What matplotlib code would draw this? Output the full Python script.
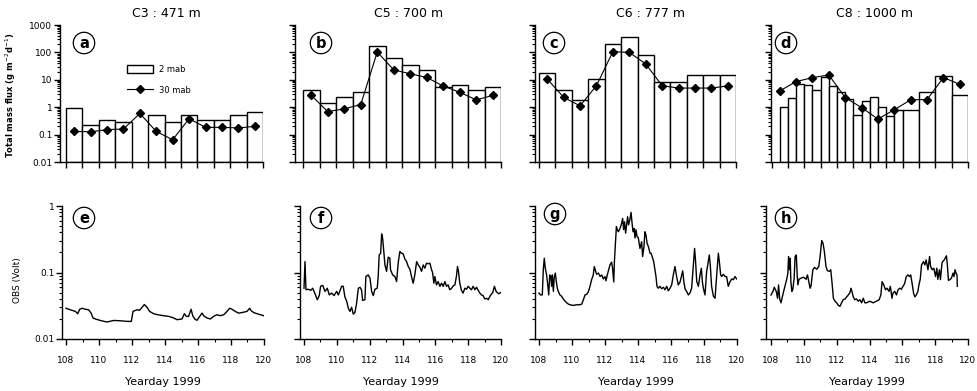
import numpy as np
import matplotlib
matplotlib.use("Agg")
import matplotlib.pyplot as plt
from matplotlib.ticker import LogLocator, NullFormatter, FuncFormatter
from matplotlib.patches import Patch
from matplotlib.lines import Line2D

plt.rcParams['font.family'] = ['DejaVu Sans']

# ---------------- sediment trap total mass flux (g m-2 d-1) ----------------
stations = ['C3 : 471 m', 'C5 : 700 m', 'C6 : 777 m', 'C8 : 1000 m']
panel_top = ['a', 'b', 'c', 'd']
panel_bot = ['e', 'f', 'g', 'h']

# one-day collection intervals (C3, C5, C6)
daily_edges = [108, 109, 110, 111, 112, 113, 114, 115, 116, 117, 118, 119, 120]
# C8 2 mab trap: half-day cups, then one-day cups
c8_edges = [108.5, 109, 109.5, 110, 110.5, 111, 111.5, 112, 112.5, 113, 113.5,
            114, 114.5, 115, 115.5, 116, 117, 118, 119, 120]
# 30 mab trap sampling midpoints
mid_days = [108.5, 109.5, 110.5, 111.5, 112.5, 113.5, 114.5, 115.5, 116.5,
            117.5, 118.5, 119.5]

c3_2mab = [0.97, 0.23, 0.34, 0.29, np.nan, 0.50, 0.29, 0.50, 0.34, 0.34, 0.50, 0.68]
c3_30mab = [0.13, 0.127, 0.152, 0.16, 0.59, 0.13, 0.065, 0.38, 0.184, 0.184, 0.175, 0.20]

c5_2mab = [4.1, 1.4, 2.3, 3.7, 166, 64, 34, 23, 5.4, 6.6, 4.4, 5.4]
c5_30mab = [2.7, 0.69, 0.87, 1.25, 103, 23, 16.6, 12.2, 5.9, 3.5, 1.85, 2.7]

c6_2mab = [18, 4.1, 1.76, 10.7, 196, 355, 80, 8.1, 8.1, 14.6, 14.6, 15.5]
c6_30mab = [10.7, 2.3, 1.12, 6.1, 106, 100, 38, 6.1, 5.0, 5.0, 5.0, 6.0]

c8_2mab = [1.0, 2.1, 6.9, 6.3, 4.4, 12.2, 5.8, 3.7, 2.0, 0.54, 1.67, 2.28, 1.0,
           0.48, 0.82, 0.82, 3.7, 13.3, 2.7]
c8_30mab = [3.9, 8.6, 12.0, 15.0, 2.25, 0.97, 0.37, 0.81, 1.86, 1.9, 12.1, 6.8]

# ---------------- OBS records (Volt) ----------------
c3_obs_day = [108.00, 108.26, 108.57, 108.71, 108.83, 108.97, 109.17, 109.37, 109.52,
              109.64, 109.78, 110.08, 110.48, 110.89, 111.29, 111.70, 111.96, 112.06,
              112.30, 112.46, 112.61, 112.75, 112.91, 113.07, 113.31, 113.62, 113.92,
              114.22, 114.53, 114.73, 115.03, 115.17, 115.29, 115.43, 115.58, 115.68,
              115.80, 115.94, 116.06, 116.24, 116.38, 116.55, 116.75, 116.95, 117.15,
              117.35, 117.56, 117.76, 117.92, 118.06, 118.26, 118.46, 118.67, 118.97,
              119.13, 119.21, 119.37, 119.58, 119.78, 119.98]
c3_obs = [0.029, 0.0275, 0.026, 0.024, 0.028, 0.029, 0.028, 0.0275, 0.0245,
          0.0207, 0.020, 0.019, 0.018, 0.019, 0.0188, 0.0184, 0.0184, 0.026,
          0.0275, 0.027, 0.030, 0.033, 0.030, 0.026, 0.024, 0.023, 0.0224,
          0.0219, 0.0207, 0.0195, 0.020, 0.024, 0.0219, 0.0219, 0.028, 0.0224,
          0.020, 0.0191, 0.0211, 0.0245, 0.0219, 0.0207, 0.020, 0.0219, 0.0232,
          0.0224, 0.0232, 0.026, 0.029, 0.028, 0.026, 0.0245, 0.025, 0.026,
          0.029, 0.0269, 0.025, 0.024, 0.0232, 0.0224]

c5_obs_day = [108.00, 108.06, 108.12, 108.26, 108.41, 108.53, 108.67, 108.81, 108.93,
              109.01, 109.14, 109.28, 109.42, 109.54, 109.68, 109.83, 109.99, 110.09,
              110.19, 110.29, 110.39, 110.49, 110.60, 110.70, 110.80, 110.90, 111.00,
              111.10, 111.20, 111.31, 111.41, 111.51, 111.57, 111.71, 111.77, 111.91,
              112.02, 112.12, 112.22, 112.32, 112.46, 112.52, 112.58, 112.67, 112.73,
              112.79, 112.87, 112.93, 113.03, 113.13, 113.23, 113.27, 113.40, 113.54,
              113.64, 113.74, 113.84, 113.94, 114.04, 114.15, 114.25, 114.35, 114.45,
              114.55, 114.65, 114.75, 114.86, 114.96, 115.06, 115.16, 115.26, 115.36,
              115.46, 115.57, 115.67, 115.77, 115.83, 115.91, 115.97, 116.07, 116.17,
              116.28, 116.38, 116.48, 116.58, 116.68, 116.78, 116.88, 116.99, 117.09,
              117.19, 117.29, 117.35, 117.41, 117.49, 117.59, 117.69, 117.80, 117.90,
              118.00, 118.10, 118.20, 118.30, 118.41, 118.51, 118.61, 118.71, 118.81,
              118.91, 119.01, 119.12, 119.22, 119.35, 119.50, 119.60, 119.70, 119.85,
              120.00]
c5_obs = [0.058, 0.146, 0.055, 0.056, 0.054, 0.058, 0.048, 0.039, 0.045,
          0.062, 0.064, 0.052, 0.058, 0.046, 0.049, 0.045, 0.052, 0.046,
          0.053, 0.062, 0.062, 0.043, 0.037, 0.029, 0.026, 0.030, 0.0237,
          0.025, 0.034, 0.058, 0.060, 0.054, 0.038, 0.039, 0.087, 0.092,
          0.082, 0.052, 0.045, 0.056, 0.058, 0.087, 0.184, 0.195, 0.380,
          0.327, 0.195, 0.130, 0.104, 0.170, 0.164, 0.110, 0.092, 0.087,
          0.073, 0.141, 0.207, 0.195, 0.191, 0.158, 0.146, 0.123, 0.112,
          0.087, 0.069, 0.092, 0.146, 0.130, 0.120, 0.104, 0.130, 0.116,
          0.138, 0.135, 0.138, 0.110, 0.100, 0.069, 0.087, 0.065, 0.073,
          0.062, 0.069, 0.062, 0.073, 0.062, 0.065, 0.055, 0.058, 0.063,
          0.065, 0.089, 0.123, 0.104, 0.069, 0.054, 0.049, 0.058, 0.056,
          0.062, 0.058, 0.055, 0.062, 0.055, 0.060, 0.054, 0.049, 0.046,
          0.045, 0.040, 0.041, 0.039, 0.045, 0.050, 0.062, 0.052, 0.048,
          0.050]

c6_obs_day = [108.00, 108.10, 108.20, 108.26, 108.32, 108.38, 108.46, 108.53, 108.59,
              108.65, 108.71, 108.77, 108.81, 108.87, 108.93, 108.99, 109.05, 109.11,
              109.17, 109.27, 109.37, 109.47, 109.58, 109.68, 109.78, 109.88, 110.08,
              110.28, 110.48, 110.59, 110.69, 110.79, 110.89, 110.99, 111.09, 111.19,
              111.29, 111.35, 111.41, 111.49, 111.60, 111.70, 111.80, 111.90, 112.00,
              112.06, 112.14, 112.22, 112.30, 112.40, 112.46, 112.53, 112.57, 112.63,
              112.69, 112.75, 112.81, 112.91, 113.01, 113.07, 113.13, 113.19, 113.25,
              113.31, 113.37, 113.43, 113.52, 113.58, 113.64, 113.70, 113.76, 113.82,
              113.88, 113.94, 114.02, 114.12, 114.22, 114.28, 114.36, 114.42, 114.48,
              114.55, 114.63, 114.73, 114.79, 114.89, 114.95, 115.03, 115.09, 115.15,
              115.23, 115.33, 115.43, 115.54, 115.64, 115.74, 115.84, 115.94, 116.04,
              116.14, 116.24, 116.34, 116.44, 116.55, 116.65, 116.71, 116.79, 116.87,
              116.95, 117.05, 117.15, 117.25, 117.35, 117.43, 117.49, 117.56, 117.66,
              117.76, 117.84, 117.90, 117.96, 118.06, 118.16, 118.26, 118.32, 118.38,
              118.46, 118.57, 118.67, 118.77, 118.87, 118.93, 119.01, 119.07, 119.17,
              119.27, 119.37, 119.47, 119.58, 119.68, 119.78, 119.88, 119.98]
c6_obs = [0.049, 0.046, 0.046, 0.110, 0.164, 0.116, 0.092, 0.065, 0.046,
          0.092, 0.087, 0.062, 0.092, 0.052, 0.087, 0.098, 0.073, 0.058,
          0.052, 0.046, 0.044, 0.040, 0.037, 0.035, 0.0335, 0.0327, 0.032,
          0.0327, 0.0327, 0.0335, 0.039, 0.046, 0.047, 0.051, 0.062, 0.078,
          0.092, 0.123, 0.110, 0.094, 0.098, 0.087, 0.092, 0.080, 0.087,
          0.075, 0.092, 0.110, 0.130, 0.143, 0.116, 0.072, 0.146, 0.26,
          0.49, 0.44, 0.41, 0.46, 0.55, 0.65, 0.44, 0.58, 0.39,
          0.52, 0.69, 0.52, 0.65, 0.80, 0.55, 0.41, 0.46, 0.33,
          0.44, 0.35, 0.33, 0.23, 0.29, 0.174, 0.245, 0.41, 0.37,
          0.275, 0.245, 0.195, 0.195, 0.164, 0.146, 0.110, 0.087, 0.062,
          0.058, 0.062, 0.057, 0.060, 0.055, 0.062, 0.053, 0.058, 0.065,
          0.092, 0.123, 0.087, 0.065, 0.072, 0.092, 0.106, 0.069, 0.055,
          0.052, 0.046, 0.049, 0.058, 0.123, 0.23, 0.146, 0.073, 0.062,
          0.092, 0.116, 0.073, 0.058, 0.046, 0.104, 0.146, 0.184, 0.130,
          0.062, 0.044, 0.041, 0.092, 0.195, 0.146, 0.092, 0.087, 0.094,
          0.087, 0.087, 0.062, 0.073, 0.080, 0.078, 0.087, 0.080]

c8_obs_day = [108.00, 108.12, 108.20, 108.32, 108.40, 108.46, 108.53, 108.61, 108.69,
              108.77, 108.87, 108.97, 109.03, 109.07, 109.13, 109.17, 109.21, 109.27,
              109.33, 109.41, 109.47, 109.54, 109.60, 109.64, 109.70, 109.82, 109.98,
              110.14, 110.22, 110.28, 110.38, 110.44, 110.55, 110.65, 110.79, 110.91,
              110.99, 111.09, 111.17, 111.25, 111.35, 111.43, 111.56, 111.64, 111.72,
              111.80, 111.90, 112.00, 112.10, 112.20, 112.30, 112.40, 112.51, 112.61,
              112.71, 112.81, 112.87, 112.93, 113.01, 113.11, 113.21, 113.31, 113.41,
              113.52, 113.62, 113.72, 113.82, 114.02, 114.22, 114.42, 114.59, 114.69,
              114.77, 114.87, 114.97, 115.07, 115.19, 115.27, 115.37, 115.43, 115.54,
              115.64, 115.74, 115.84, 115.94, 116.04, 116.14, 116.24, 116.34, 116.44,
              116.51, 116.61, 116.69, 116.77, 116.85, 116.95, 117.01, 117.09, 117.17,
              117.29, 117.37, 117.45, 117.56, 117.66, 117.72, 117.82, 117.92, 118.02,
              118.10, 118.16, 118.26, 118.32, 118.42, 118.55, 118.65, 118.69, 118.75,
              118.81, 118.89, 118.99, 119.09, 119.15, 119.21, 119.27, 119.33, 119.35]
c8_obs = [0.046, 0.052, 0.060, 0.052, 0.041, 0.065, 0.040, 0.035, 0.043,
          0.052, 0.065, 0.082, 0.098, 0.174, 0.110, 0.164, 0.073, 0.052,
          0.056, 0.082, 0.174, 0.184, 0.087, 0.065, 0.079, 0.082, 0.085,
          0.079, 0.092, 0.078, 0.058, 0.063, 0.110, 0.119, 0.112, 0.123,
          0.174, 0.302, 0.275, 0.207, 0.123, 0.107, 0.104, 0.110, 0.069,
          0.041, 0.037, 0.035, 0.032, 0.031, 0.035, 0.039, 0.040, 0.043,
          0.046, 0.050, 0.058, 0.052, 0.043, 0.039, 0.040, 0.037, 0.039,
          0.035, 0.041, 0.035, 0.035, 0.037, 0.035, 0.037, 0.039, 0.046,
          0.073, 0.065, 0.055, 0.058, 0.052, 0.062, 0.041, 0.049, 0.052,
          0.046, 0.055, 0.058, 0.056, 0.062, 0.068, 0.087, 0.092, 0.087,
          0.092, 0.065, 0.048, 0.043, 0.046, 0.052, 0.065, 0.079, 0.130,
          0.146, 0.130, 0.155, 0.110, 0.174, 0.123, 0.110, 0.116, 0.087,
          0.116, 0.079, 0.110, 0.078, 0.141, 0.155, 0.170, 0.178, 0.123,
          0.076, 0.078, 0.082, 0.098, 0.087, 0.110, 0.098, 0.092, 0.062]

flux_edges = [daily_edges, daily_edges, daily_edges, c8_edges]
flux_2mab = [c3_2mab, c5_2mab, c6_2mab, c8_2mab]
flux_30mab = [c3_30mab, c5_30mab, c6_30mab, c8_30mab]
obs_days = [c3_obs_day, c5_obs_day, c6_obs_day, c8_obs_day]
obs_vals = [c3_obs, c5_obs, c6_obs, c8_obs]

# ---------------- figure layout (pixel geometry) ----------------
W, H = 977, 391
fig = plt.figure(figsize=(W / 100, H / 100), dpi=100)

def px_axes(left, right, top, bottom):
    return fig.add_axes([left / W, 1 - bottom / H, (right - left) / W, (bottom - top) / H])

# (spine x, x of day 108, x of day 120)
top_geom = [(60, 66, 263), (295, 303, 501), (535, 539, 736), (771, 771.5, 968)]
bot_geom = [(62, 66, 264), (300, 304, 501), (535, 539, 737), (766, 771, 968)]
top_y = (25, 162)
bot_y = (206, 339)

title_px = [166, 409, 651, 874]
letter_top_px = [(84, 43), (321, 43), (554, 43), (786, 43)]
letter_bot_px = [(84, 218), (321, 218), (555, 214), (786, 218)]

tick_fs = 6.5
marker_size = 3.8
plain = FuncFormatter(lambda v, _: f'{v:g}')


def style_axes(ax):
    for s in ('top', 'right'):
        ax.spines[s].set_visible(False)
    for s in ('left', 'bottom'):
        ax.spines[s].set_linewidth(1.0)
    ax.tick_params(which='major', direction='out', length=4.5, width=1.0,
                   labelsize=tick_fs)
    ax.tick_params(which='minor', direction='out', length=2.5, width=0.8)
    ax.tick_params(axis='y', which='major', pad=1)
    ax.tick_params(axis='x', which='major', pad=8)


def circled(xy_px, letter):
    fig.text(xy_px[0] / W, 1 - xy_px[1] / H, letter, ha='center', va='center',
             fontsize=10.5, fontweight='bold',
             bbox=dict(boxstyle='circle,pad=0.22', fc='white', ec='black', lw=0.9))


for i in range(4):
    # ----- flux panels -----
    sp, x108, x120 = top_geom[i]
    ax = px_axes(sp, x120, *top_y)
    per_day = (x120 - x108) / 12.0
    ax.set_xlim(108 - (x108 - sp) / per_day, 120)
    ax.set_yscale('log')
    ax.set_ylim(0.01, 1000)
    style_axes(ax)

    edges = np.array(flux_edges[i], dtype=float)
    heights = np.array(flux_2mab[i], dtype=float)
    ok = ~np.isnan(heights)
    ax.bar(edges[:-1][ok], heights[ok] - 0.01, width=np.diff(edges)[ok], bottom=0.01,
           align='edge', facecolor='white', edgecolor='black', linewidth=1.0, zorder=2)
    ax.plot(mid_days, flux_30mab[i], color='black', lw=0.8, marker='D',
            markersize=marker_size, zorder=3)

    ax.set_xticks(daily_edges)
    ax.set_xticklabels([])
    ax.yaxis.set_major_locator(LogLocator(base=10, numticks=10))
    ax.yaxis.set_minor_locator(LogLocator(base=10, subs=np.arange(2, 10), numticks=10))
    ax.yaxis.set_minor_formatter(NullFormatter())
    if i == 0:
        ax.yaxis.set_major_formatter(plain)
        ax.set_ylabel('Total mass flux (g m$^{-2}$d$^{-1}$)', fontsize=6,
                      fontweight='bold')
        ax.yaxis.set_label_coords((18 - sp) / (x120 - sp), 0.49)
        handles = [Patch(facecolor='white', edgecolor='black', lw=1.0),
                   Line2D([], [], color='black', lw=0.8, marker='D',
                          markersize=marker_size)]
        ax.legend(handles, ['2 mab', '30 mab'], loc='upper left',
                  bbox_to_anchor=(0.314, 0.735), borderaxespad=0, frameon=False,
                  fontsize=6, handlelength=3.1, handleheight=1.1,
                  labelspacing=1.45, handletextpad=0.7)
    else:
        ax.yaxis.set_major_formatter(NullFormatter())

    fig.text(title_px[i] / W, 1 - 13.5 / H, stations[i], ha='center', va='center',
             fontsize=9)
    circled(letter_top_px[i], panel_top[i])

    # ----- OBS panels -----
    sp, x108, x120 = bot_geom[i]
    ax2 = px_axes(sp, x120, *bot_y)
    per_day = (x120 - x108) / 12.0
    ax2.set_xlim(108 - (x108 - sp) / per_day, 120)
    ax2.set_yscale('log')
    ax2.set_ylim(0.01, 1)
    style_axes(ax2)
    ax2.plot(obs_days[i], obs_vals[i], color='black', lw=1.0)

    ax2.set_xticks([108, 110, 112, 114, 116, 118, 120])
    ax2.set_xticks([109, 111, 113, 115, 117, 119], minor=True)
    ax2.yaxis.set_major_locator(LogLocator(base=10, numticks=10))
    ax2.yaxis.set_minor_locator(LogLocator(base=10, subs=np.arange(2, 10), numticks=10))
    ax2.yaxis.set_minor_formatter(NullFormatter())
    if i == 0:
        ax2.yaxis.set_major_formatter(plain)
        ax2.set_ylabel('OBS (Volt)', fontsize=6.5)
        ax2.yaxis.set_label_coords((22 - sp) / (x120 - sp), 0.44)
    else:
        ax2.yaxis.set_major_formatter(NullFormatter())
    ax2.set_xlabel('Yearday 1999', fontsize=8)
    ax2.xaxis.set_label_coords(0.5, (bot_y[1] - 377) / (bot_y[1] - bot_y[0]))
    circled(letter_bot_px[i], panel_bot[i])

fig.savefig('out.png', dpi=100)
